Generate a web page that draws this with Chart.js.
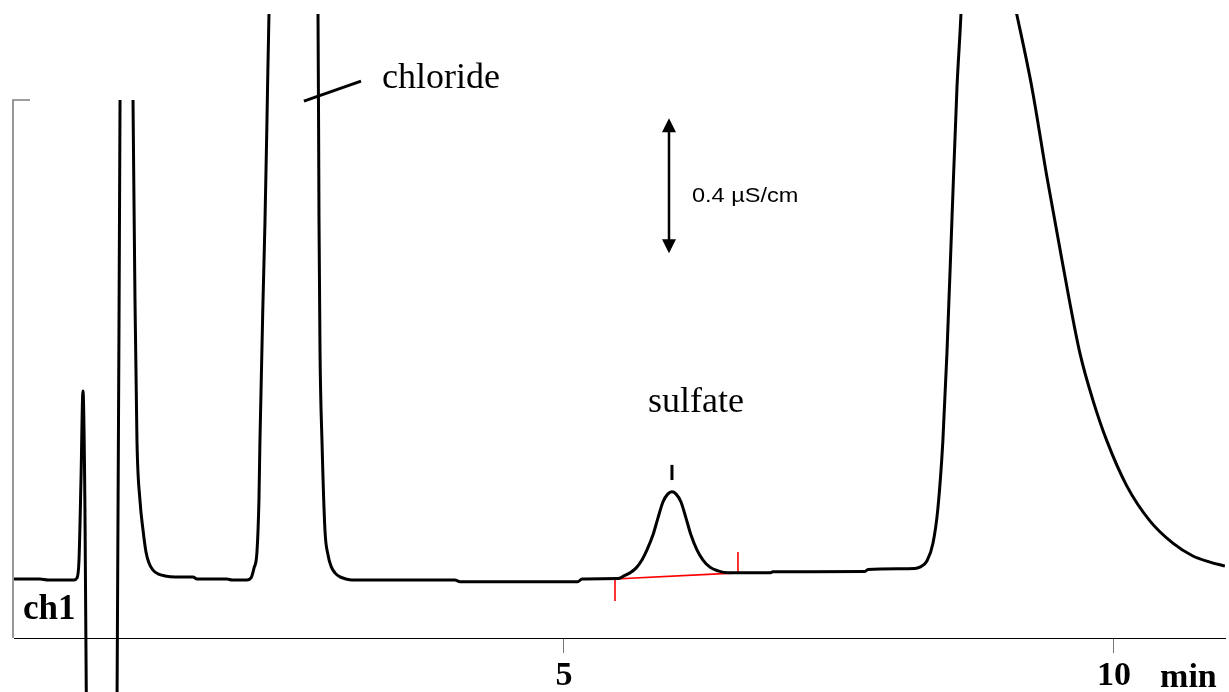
<!DOCTYPE html>
<html>
<head>
<meta charset="utf-8">
<script src="https://cdn.jsdelivr.net/npm/chart.js@4.4.1/dist/chart.umd.min.js"></script>
<style>
  html, body { margin: 0; padding: 0; background: #fff; }
  #wrap { width: 1229px; height: 692px; position: relative; }
</style>
</head>
<body>
<div id="wrap"><canvas id="Chart"></canvas></div>
<script>
// * Chromatogram trace: retention time (min) and conductivity (µS/cm)
const timeMin = [
  0.000, 0.236, 0.309, 0.545, 0.573, 0.591, 0.609, 0.627, 0.645, 0.659,
  0.736, 0.800, 0.873, 0.936, 0.964, 1.020, 1.082, 1.100, 1.118, 1.145,
  1.173, 1.200, 1.227, 1.264, 1.309, 1.373, 1.464, 1.627, 1.664, 1.936,
  1.982, 2.118, 2.155, 2.182, 2.209, 2.227, 2.236, 2.264, 2.282, 2.300,
  2.318, 2.545, 2.764, 2.773, 2.782, 2.800, 2.827, 2.855, 2.882, 2.918,
  2.964, 3.018, 3.073, 4.009, 4.055, 5.127, 5.164, 5.491, 5.545, 5.600,
  5.655, 5.709, 5.755, 5.809, 5.855, 5.900, 5.945, 5.982, 6.018, 6.064,
  6.109, 6.155, 6.209, 6.264, 6.327, 6.400, 6.491, 6.873, 6.900, 7.736,
  7.764, 8.191, 8.236, 8.300, 8.355, 8.400, 8.445, 8.482, 8.527, 8.573,
  8.609, 8.640, 8.873, 9.072, 9.118, 9.255, 9.391, 9.536, 9.691, 9.809,
  9.936, 10.118, 10.327, 10.536, 10.718, 10.873, 11.009
]
const conductivity = [
  0.175, 0.175, 0.172, 0.172, 0.178, 0.231, 0.468, 0.732, 0.385, -0.243,
  -1.369, -1.813, -1.369, -0.243, 1.594, null, 1.594, 1.001, 0.584, 0.409,
  0.320, 0.255, 0.222, 0.201, 0.190, 0.184, 0.181, 0.181, 0.175, 0.175,
  0.172, 0.172, 0.178, 0.207, 0.255, 0.409, 0.584, 1.001, 1.236, 1.535,
  1.846, 3.200, 1.846, 1.236, 0.853, 0.584, 0.320, 0.246, 0.213, 0.193,
  0.181, 0.175, 0.172, 0.172, 0.167, 0.167, 0.175, 0.176, 0.184, 0.193,
  0.207, 0.231, 0.261, 0.305, 0.356, 0.403, 0.427, 0.433, 0.427, 0.403,
  0.356, 0.305, 0.261, 0.231, 0.210, 0.199, 0.193, 0.193, 0.196, 0.197,
  0.203, 0.206, 0.210, 0.228, 0.281, 0.385, 0.584, 0.844, 1.236, 1.630,
  1.846, 2.100, 3.500, 1.920, 1.846, 1.630, 1.366, 1.105, 0.844, 0.705,
  0.584, 0.450, 0.347, 0.281, 0.243, 0.225, 0.213
]

// * Sulfate integration baseline (red)
const sulfateBaseTime = [5.464, 5.464, 6.582, 6.582]
const sulfateBaseValue = [0.110, 0.175, 0.193, 0.255]

// * Peak markers
const sulfateMarkTime = [5.982, 5.982]
const sulfateMarkValue = [0.468, 0.513]
const chlorideMarkTime = [2.636, 3.155]
const chlorideMarkValue = [1.591, 1.650]

// * Axis ticks and labels
const timeTicks = [5, 10]
const yAxisTop = 1.594
const scaleBar = [1.14, 1.54]   // 0.4 µS/cm
const peakLabels = [
  { text: 'chloride', t: 3.345, v: 1.630 },
  { text: 'sulfate', t: 5.764, v: 0.670 },
]

const toPoints = (xs, ys) => xs.map((t, i) => ({ x: t, y: ys[i] }))

// * Extra drawing: left axis, scale bar, texts
const decor = {
  id: 'decor',
  afterDraw(chart) {
    const { ctx, scales: { x, y } } = chart
    ctx.save()

    // left axis line with its top tick
    const ax = x.getPixelForValue(0) - 1
    const topY = y.getPixelForValue(yAxisTop)
    ctx.strokeStyle = '#7f7f7f'
    ctx.lineWidth = 1.6
    ctx.beginPath()
    ctx.moveTo(ax + 17, topY)
    ctx.lineTo(ax, topY)
    ctx.lineTo(ax, y.getPixelForValue(0))
    ctx.stroke()

    // scale bar arrow
    const bx = x.getPixelForValue(5.955)
    const b0 = y.getPixelForValue(scaleBar[0])
    const b1 = y.getPixelForValue(scaleBar[1])
    ctx.strokeStyle = '#000'
    ctx.fillStyle = '#000'
    ctx.lineWidth = 2.5
    ctx.beginPath()
    ctx.moveTo(bx, b1 + 10)
    ctx.lineTo(bx, b0 - 10)
    ctx.stroke()
    ctx.beginPath()
    ctx.moveTo(bx, b1); ctx.lineTo(bx - 7, b1 + 14); ctx.lineTo(bx + 7, b1 + 14); ctx.closePath()
    ctx.moveTo(bx, b0); ctx.lineTo(bx - 7, b0 - 14); ctx.lineTo(bx + 7, b0 - 14); ctx.closePath()
    ctx.fill()

    ctx.textAlign = 'left'
    ctx.textBaseline = 'alphabetic'

    // scale bar text is a bit wide in the original
    ctx.save()
    ctx.translate(x.getPixelForValue(6.164), y.getPixelForValue(1.292))
    ctx.scale(1.12, 1)
    ctx.font = '21px "Liberation Sans", Arial, sans-serif'
    ctx.fillText('0.4 µS/cm', 0, 0)
    ctx.restore()

    ctx.font = '36px "Liberation Serif", "Times New Roman", serif'
    peakLabels.forEach(l => {
      ctx.fillText(l.text, x.getPixelForValue(l.t), y.getPixelForValue(l.v))
    })

    ctx.font = 'bold 35px "Liberation Serif", "Times New Roman", serif'
    ctx.fillText('ch1', x.getPixelForValue(0.082), y.getPixelForValue(0.056))
    ctx.font = 'bold 34px "Liberation Serif", "Times New Roman", serif'
    ctx.fillText('min', x.getPixelForValue(10.42), y.getPixelForValue(-0.145))

    ctx.restore()
  }
}

const data = {
  datasets: [{
    label: 'ch1',
    data: toPoints(timeMin, conductivity),
    borderColor: '#000',
    borderWidth: 3,
    pointRadius: 0,
    cubicInterpolationMode: 'monotone',
    spanGaps: false,
  }, {
    label: 'sulfate baseline',
    data: toPoints(sulfateBaseTime, sulfateBaseValue),
    borderColor: '#ff0000',
    borderWidth: 1.6,
    pointRadius: 0,
  }, {
    label: 'sulfate mark',
    data: toPoints(sulfateMarkTime, sulfateMarkValue),
    borderColor: '#000',
    borderWidth: 3,
    pointRadius: 0,
  }, {
    label: 'chloride mark',
    data: toPoints(chlorideMarkTime, chlorideMarkValue),
    borderColor: '#000',
    borderWidth: 3,
    pointRadius: 0,
  }]
}

const config = {
  type: 'line',
  data,
  options: {
    responsive: true,
    maintainAspectRatio: false,
    animation: false,
    layout: { padding: { left: 14, right: 4, top: 14, bottom: 0 } },
    plugins: { legend: { display: false }, tooltip: { enabled: false } },
    scales: {
      x: {
        type: 'linear',
        min: 0,
        max: 11.01,
        position: { y: 0 },
        afterBuildTicks: (scale) => { scale.ticks = timeTicks.map(v => ({ value: v })) },
        ticks: {
          color: '#000',
          padding: 4,
          maxRotation: 0,
          autoSkip: false,
          font: { family: '"Liberation Serif", "Times New Roman", serif', size: 34, weight: 'bold' },
          callback: (v) => String(v),
        },
        grid: { drawOnChartArea: false, drawTicks: true, tickLength: 14, color: '#777', lineWidth: 1 },
        border: { display: true, color: '#000', width: 1 },
      },
      y: {
        display: false,
        min: -0.16,
        max: 1.849,
      }
    }
  },
  plugins: [decor]
}

const lineChart = new Chart(document.getElementById('Chart'), config)
</script>
</body>
</html>
